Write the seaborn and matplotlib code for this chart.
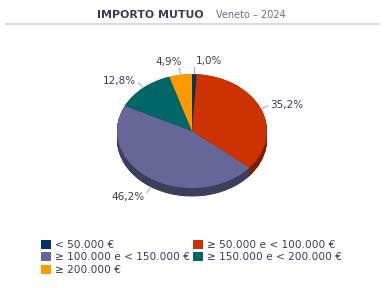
import numpy as np
import matplotlib
matplotlib.use("Agg")
import matplotlib.pyplot as plt
import matplotlib.patches as mpatches
import seaborn as sns

categories = ["< 50.000 €", "≥ 50.000 e < 100.000 €", "≥ 100.000 e < 150.000 €",
              "≥ 150.000 e < 200.000 €", "≥ 200.000 €"]
values = [1.0, 35.2, 46.2, 12.8, 4.9]
labels = ["1,0%", "35,2%", "46,2%", "12,8%", "4,9%"]
colors = ["#003366", "#CC3300", "#666699", "#006666", "#FF9900"]
side_colors = ["#001a33", "#7a1f00", "#3d3d5c", "#003d3d", "#995c00"]

sns.set_theme(style="white")
plt.rcParams['font.family'] = ['DejaVu Sans']

W, H = 384, 288
fig = plt.figure(figsize=(W / 100, H / 100), dpi=100)
fig.patch.set_facecolor("white")

def fx(x): return x / W
def fy(y): return 1 - y / H

# Title
fig.text(fx(204), fy(17.5), "IMPORTO MUTUO", ha="right", va="baseline",
         fontsize=7.9, fontweight="bold", color="#3d3d55")
fig.text(fx(216), fy(17.5), "Veneto – 2024", ha="left", va="baseline",
         fontsize=7.0, color="#6e6e88")
fig.add_artist(plt.Line2D([fx(6), fx(379)], [fy(24), fy(24)], color="#d9d9e3",
                          lw=1.5, transform=fig.transFigure))

# Pie axes (elliptical)
cx, cy, rx, ry = 192, 131, 75, 57
L = 1.5
ax = fig.add_axes([fx(cx - L * rx), fy(cy + L * ry), 2 * L * rx / W, 2 * L * ry / H])
ax.axis("off")

depth = 8.5 / ry
for d in np.linspace(depth, 0.005, 20):
    ax.pie(values, colors=side_colors, startangle=90, counterclock=False,
           center=(0, -d), radius=1, wedgeprops=dict(linewidth=0), frame=False)
wedges, _ = ax.pie(values, colors=colors, startangle=90, counterclock=False,
                   center=(0, 0), radius=1, wedgeprops=dict(linewidth=0), frame=False)
ax.set_xlim(-L, L)
ax.set_ylim(-L, L)
ax.set_aspect("auto")

for w, lab in zip(wedges, labels):
    mid = np.deg2rad((w.theta1 + w.theta2) / 2)
    c, s = np.cos(mid), np.sin(mid)
    off = -depth if s < -0.3 else 0.0
    p0 = (c * 1.0, s * 1.0 + off)
    p1 = (c * 1.1, s * 1.12 + off)
    ax.plot([p0[0], p1[0]], [p0[1], p1[1]], color="#a8aec8", lw=0.8)
    if abs(c) < 0.3:
        # near the top: text sits just above the line end
        ha = "left" if c >= 0 else "right"
        tx = p1[0] + (0.02 if c >= 0 else 0.04)
        ax.text(tx, p1[1] + 0.02, lab, ha=ha, va="bottom",
                fontsize=7.5, color="#3a3a58")
    else:
        ha = "left" if c >= 0 else "right"
        dy = -0.08 if s < -0.3 else 0.02
        ax.text(p1[0] + (0.03 if c >= 0 else -0.03), p1[1] + dy, lab,
                ha=ha, va="center", fontsize=7.5, color="#3a3a58")

# Legend
handles = [mpatches.Patch(facecolor=c, edgecolor="none") for c in colors]
order = [0, 2, 4, 1, 3]
leg = fig.legend([handles[i] for i in order], [categories[i] for i in order],
                 ncol=2, loc="upper left", bbox_to_anchor=(fx(41), fy(239.5)),
                 frameon=False, fontsize=7.6, handlelength=0.95, handleheight=0.95,
                 handletextpad=0.35, columnspacing=0.35, labelspacing=0.22,
                 borderpad=0, borderaxespad=0)
for t in leg.get_texts():
    t.set_color("#3a3a58")

fig.savefig("out.png", dpi=100)
